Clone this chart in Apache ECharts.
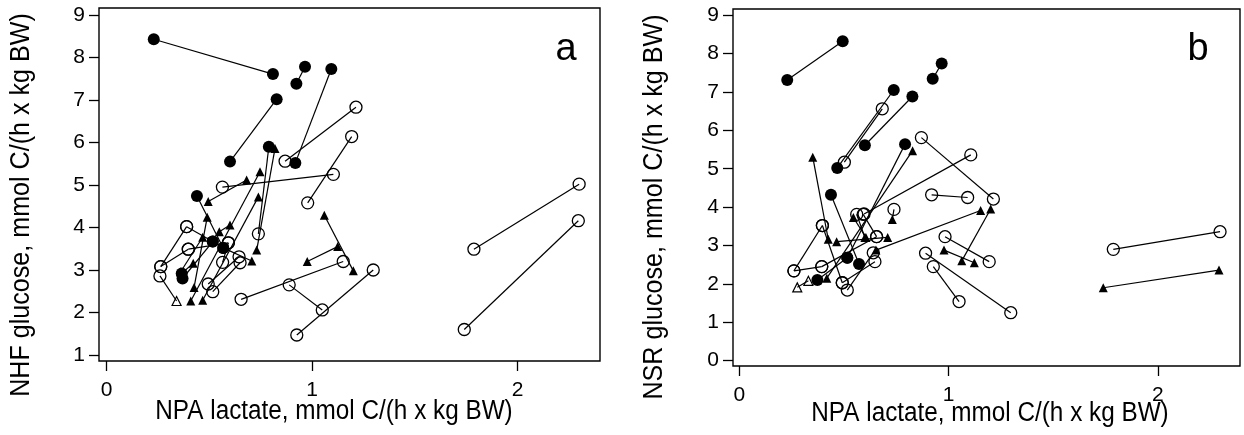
<!DOCTYPE html>
<html><head><meta charset="utf-8">
<script src="https://cdn.jsdelivr.net/npm/echarts@6/dist/echarts.min.js"></script>
<style>html,body{margin:0;padding:0;background:#fff}#c{width:1244px;height:435px}</style>
</head><body><div id="c"></div>
<script>
// Each segment: [x1, y1, symbol1, x2, y2, symbol2]; symbols: F filled circle, O open circle, T filled triangle, U open triangle
const segmentsA = [
 [0.23,8.43,'F',0.81,7.61,'F'],
 [0.924,7.38,'F',0.966,7.78,'F'],
 [0.601,5.55,'F',0.828,7.02,'F'],
 [0.919,5.52,'F',1.094,7.73,'F'],
 [0.79,5.90,'F',0.739,3.85,'O'],
 [0.82,5.86,'T',0.731,3.47,'T'],
 [0.869,5.56,'O',1.214,6.83,'O'],
 [0.564,4.95,'O',1.104,5.25,'O'],
 [0.979,4.58,'O',1.193,6.14,'O'],
 [0.682,5.12,'T',0.495,4.61,'T'],
 [0.747,5.31,'T',0.41,2.27,'T'],
 [0.739,4.72,'T',0.468,2.29,'T'],
 [1.06,4.29,'T',1.201,2.98,'T'],
 [1.125,3.55,'T',0.977,3.20,'T'],
 [0.655,2.31,'O',1.152,3.20,'O'],
 [0.926,1.47,'O',1.298,3.00,'O'],
 [0.889,2.65,'O',1.05,2.06,'O'],
 [1.788,3.49,'O',2.30,5.02,'O'],
 [1.741,1.60,'O',2.296,4.16,'O'],
 [0.44,4.74,'F',0.568,3.52,'F'],
 [0.49,4.24,'T',0.426,2.59,'T'],
 [0.601,4.06,'T',0.549,3.90,'T'],
 [0.366,2.92,'F',0.422,3.16,'T'],
 [0.37,2.80,'F',0.517,3.67,'F'],
 [0.39,4.02,'O',0.517,3.67,'F'],
 [0.264,3.08,'O',0.39,4.02,'O'],
 [0.26,2.86,'O',0.341,2.27,'U'],
 [0.264,3.08,'O',0.398,3.49,'O'],
 [0.398,3.49,'O',0.593,3.64,'O'],
 [0.495,2.67,'O',0.645,3.31,'O'],
 [0.517,2.49,'O',0.65,3.17,'O'],
 [0.565,3.18,'O',0.593,3.64,'O'],
 [0.568,3.52,'F',0.707,3.21,'T'],
 [0.361,2.96,'T',0.468,3.77,'T']
];
const segmentsB = [
 [0.229,7.31,'F',0.494,8.32,'F'],
 [0.924,7.34,'F',0.967,7.74,'F'],
 [0.468,5.02,'F',0.738,7.05,'F'],
 [0.502,5.17,'O',0.683,6.56,'O'],
 [0.60,5.61,'F',0.827,6.88,'F'],
 [0.87,5.81,'O',1.214,4.21,'O'],
 [0.596,3.82,'O',1.106,5.36,'O'],
 [0.919,4.32,'O',1.091,4.25,'O'],
 [0.792,5.64,'F',0.516,2.68,'F'],
 [0.828,5.47,'T',0.418,2.15,'T'],
 [0.739,3.94,'O',0.731,3.68,'T'],
 [0.351,5.30,'T',0.425,3.16,'T'],
 [0.438,4.32,'F',0.572,2.52,'F'],
 [0.261,2.34,'O',0.397,3.52,'O'],
 [0.261,2.34,'O',0.394,2.45,'O'],
 [0.277,1.91,'U',0.33,2.08,'U'],
 [0.373,2.10,'F',0.516,2.68,'F'],
 [0.397,3.52,'O',0.492,2.03,'O'],
 [0.516,1.84,'O',0.64,2.81,'O'],
 [0.394,2.45,'O',0.656,3.23,'O'],
 [0.492,2.03,'O',0.648,2.58,'O'],
 [0.561,3.81,'O',0.60,3.21,'T'],
 [0.592,3.81,'O',0.656,3.23,'O'],
 [0.465,3.10,'T',0.709,3.21,'T'],
 [0.545,3.73,'T',0.605,3.21,'T'],
 [0.653,2.88,'T',1.153,3.91,'T'],
 [0.983,3.23,'O',1.194,2.58,'O'],
 [0.978,2.88,'T',1.123,2.55,'T'],
 [1.063,2.60,'T',1.201,3.95,'T'],
 [0.89,2.80,'O',1.297,1.25,'O'],
 [0.927,2.45,'O',1.05,1.54,'O'],
 [1.787,2.90,'O',2.297,3.36,'O'],
 [1.739,1.90,'T',2.292,2.36,'T']
];
const xTicks = [0, 1, 2];
const yTicksA = [1, 2, 3, 4, 5, 6, 7, 8, 9];
const yTicksB = [0, 1, 2, 3, 4, 5, 6, 7, 8, 9];
const xTitle = 'NPA lactate, mmol C/(h x kg BW)';
const yTitleA = 'NHF glucose, mmol C/(h x kg BW)';
const yTitleB = 'NSR glucose, mmol C/(h x kg BW)';
const panelLabels = ['a', 'b'];

const FONT = '"Liberation Sans", Arial, Helvetica, sans-serif';
const symbolStyles = {
  F: {symbol: 'circle', symbolSize: 12, itemStyle: {color: '#000', borderWidth: 0, opacity: 1}},
  O: {symbol: 'circle', symbolSize: 12, itemStyle: {color: 'rgba(0,0,0,0)', borderColor: '#000', borderWidth: 1.3, opacity: 1}},
  T: {symbol: 'triangle', symbolSize: 9, itemStyle: {color: '#000', borderWidth: 0, opacity: 1}},
  U: {symbol: 'triangle', symbolSize: 9, itemStyle: {color: 'rgba(0,0,0,0)', borderColor: '#000', borderWidth: 1.2, opacity: 1}}
};

function buildSeries(segs, idx) {
  const out = [{
    type: 'lines', coordinateSystem: 'cartesian2d', xAxisIndex: idx, yAxisIndex: idx,
    lineStyle: {color: '#000', width: 1.2, opacity: 1}, silent: true, z: 2,
    data: segs.map(s => ({coords: [[s[0], s[1]], [s[3], s[4]]]}))
  }];
  ['O', 'U', 'T', 'F'].forEach(k => {
    const pts = [];
    segs.forEach(s => {
      if (s[2] === k) pts.push([s[0], s[1]]);
      if (s[5] === k) pts.push([s[3], s[4]]);
    });
    out.push(Object.assign({type: 'scatter', xAxisIndex: idx, yAxisIndex: idx, z: 3, silent: true, data: pts}, symbolStyles[k]));
  });
  return out;
}

function xAxisCfg(gi, min, max) {
  return {gridIndex: gi, type: 'value', min: min, max: max,
    axisLine: {show: false, onZero: false}, splitLine: {show: false},
    axisTick: {show: true, length: 10, customValues: xTicks, lineStyle: {color: '#000', width: 1.3}},
    axisLabel: {customValues: xTicks, fontSize: 21, color: '#000', margin: 19, fontFamily: FONT}};
}
function yAxisCfg(gi, min, max, ticks) {
  return {gridIndex: gi, type: 'value', min: min, max: max,
    axisLine: {show: false, onZero: false}, splitLine: {show: false},
    axisTick: {show: true, length: 10, customValues: ticks, lineStyle: {color: '#000', width: 1.3}},
    axisLabel: {customValues: ticks, fontSize: 21, color: '#000', margin: 14, fontFamily: FONT}};
}

const chart = echarts.init(document.getElementById('c'), null, {renderer: 'canvas'});
chart.setOption({
  animation: false,
  backgroundColor: '#fff',
  grid: [
    {left: 99, top: 8, width: 501, height: 353, show: true, borderColor: '#000', borderWidth: 1.4, backgroundColor: 'rgba(0,0,0,0)'},
    {left: 733, top: 9, width: 507, height: 357, show: true, borderColor: '#000', borderWidth: 1.4, backgroundColor: 'rgba(0,0,0,0)'}
  ],
  xAxis: [xAxisCfg(0, -0.0365, 2.4015), xAxisCfg(1, -0.0301, 2.3923)],
  yAxis: [yAxisCfg(0, 0.8588, 9.1647, yTicksA), yAxisCfg(1, -0.138, 9.159, yTicksB)],
  series: buildSeries(segmentsA, 0).concat(buildSeries(segmentsB, 1)),
  graphic: [
    {type: 'text', x: 334, y: 412, scaleX: 0.9, style: {text: xTitle, font: '27px ' + FONT, fill: '#000', align: 'center', verticalAlign: 'middle'}},
    {type: 'text', x: 990, y: 414, scaleX: 0.9, style: {text: xTitle, font: '27px ' + FONT, fill: '#000', align: 'center', verticalAlign: 'middle'}},
    {type: 'text', x: 22, y: 205, rotation: Math.PI / 2, scaleX: 0.93, style: {text: yTitleA, font: '27px ' + FONT, fill: '#000', align: 'center', verticalAlign: 'middle'}},
    {type: 'text', x: 655, y: 207, rotation: Math.PI / 2, scaleX: 0.93, style: {text: yTitleB, font: '27px ' + FONT, fill: '#000', align: 'center', verticalAlign: 'middle'}},
    {type: 'text', x: 566, y: 50, style: {text: panelLabels[0], font: '38px ' + FONT, fill: '#000', align: 'center', verticalAlign: 'middle'}},
    {type: 'text', x: 1198, y: 50, style: {text: panelLabels[1], font: '38px ' + FONT, fill: '#000', align: 'center', verticalAlign: 'middle'}}
  ]
});
</script></body></html>
